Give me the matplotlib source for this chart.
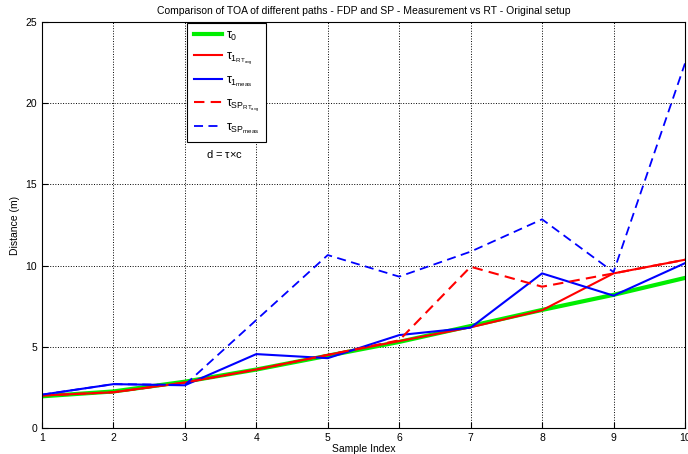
import numpy as np
import matplotlib.pyplot as plt

plt.rcParams['font.family'] = ['Liberation Sans', 'DejaVu Sans']
plt.rcParams['mathtext.fontset'] = 'custom'
plt.rcParams['mathtext.rm'] = 'Liberation Sans'
plt.rcParams['mathtext.it'] = 'Liberation Sans'

#%% dane
idx = [1, 2, 3, 4, 5, 6, 7, 8, 9, 10]
tau0 = [1.95, 2.25, 2.85, 3.6, 4.45, 5.3, 6.28, 7.27, 8.2, 9.24]
tau1_rt = [2.0, 2.2, 2.8, 3.6, 4.5, 5.35, 6.2, 7.25, 9.52, 10.36]
tau1_meas = [2.05, 2.7, 2.63, 4.55, 4.3, 5.72, 6.18, 9.52, 8.15, 10.15]
tausp_rt = [2.0, 2.2, 2.8, 3.6, 4.5, 5.4, 9.93, 8.7, 9.52, 10.36]
tausp_meas = [2.05, 2.7, 2.65, 6.65, 10.65, 9.32, 10.86, 12.85, 9.6, 22.45]

#%% wykres
fig = plt.figure(figsize=(6.88, 4.54), dpi=100)
ax = fig.add_axes([0.061, 0.0573, 0.9346, 0.8942])

ax.plot(idx, tau0, c='#00ee00', lw=3, label=r'$\tau_0$')
ax.plot(idx, tau1_rt, c='red', lw=1.5, label=r'$\tau_{1_{RT_{avg}}}$')
ax.plot(idx, tau1_meas, c='blue', lw=1.5, label=r'$\tau_{1_{meas}}$')
ax.plot(idx, tausp_rt, c='red', lw=1.5, ls=(0, (5, 3)), label=r'$\tau_{SP_{RT_{avg}}}$')
ax.plot(idx, tausp_meas, c='blue', lw=1.3, ls=(0, (5, 3)), label=r'$\tau_{SP_{meas}}$')

ax.set_xlim(1, 10)
ax.set_ylim(0, 25)
ax.set_xticks(idx)
ax.set_yticks([0, 5, 10, 15, 20, 25])
ax.tick_params(direction='in', labelsize=7.5, length=4)
ax.grid(True, ls=':', c='black', lw=0.7)
ax.set_title('Comparison of TOA of different paths - FDP and SP - Measurement vs RT - Original setup',
             fontsize=7.5, pad=6)
ax.set_xlabel('Sample Index', fontsize=7.5, labelpad=1)
ax.set_ylabel('Distance (m)', fontsize=7.5, labelpad=4)

leg = ax.legend(loc='upper left', bbox_to_anchor=(0.224, 1.0), fontsize=9,
                fancybox=False, edgecolor='black', framealpha=1,
                handlelength=2.3, handletextpad=0.3, labelspacing=0.62,
                borderpad=0.5, borderaxespad=0.1)
leg.get_frame().set_linewidth(0.8)
ax.text(3.56, 16.9, r'd = $\tau$$\times$c', fontsize=8, ha='center', va='center')

fig.savefig('out.png', dpi=100)
